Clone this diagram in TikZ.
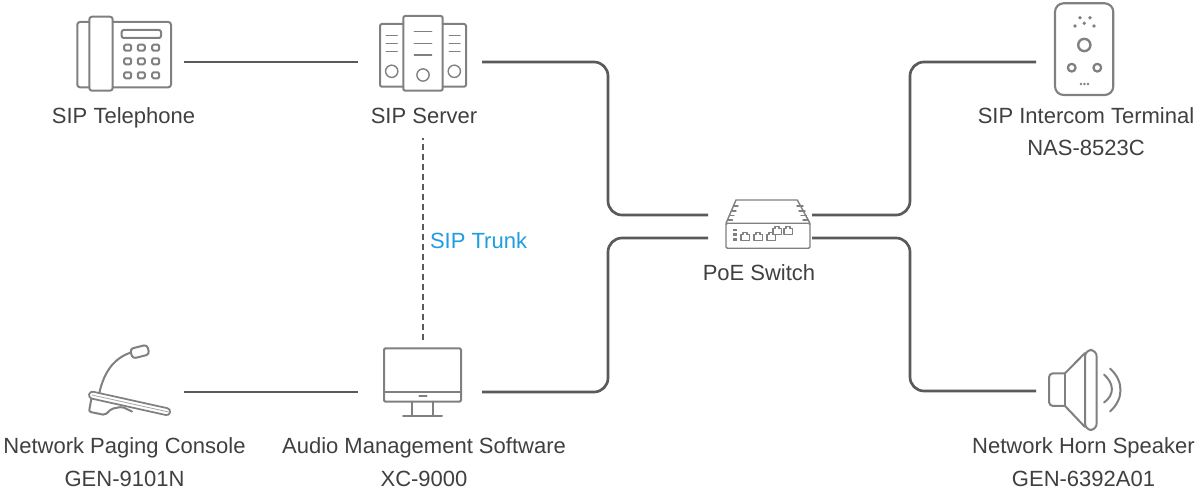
\documentclass[tikz,border=0pt]{standalone}
\usepackage{fontspec}
\setmainfont{Liberation Sans}
\usetikzlibrary{calc}
\definecolor{linec}{HTML}{5A5A5A}
\definecolor{iconc}{HTML}{808080}
\definecolor{textc}{HTML}{404040}
\definecolor{bluec}{HTML}{1E9DE3}
\tikzset{
  x=0.75pt,y=-0.75pt,
  ic/.style={draw=iconc,line width=1.5pt,line join=round,line cap=round},
  ict/.style={draw=iconc,line width=1.05pt,line join=round,line cap=round},
  wire/.style={draw=linec,line width=2pt,rounded corners=10.5pt},
  dots/.style={draw=linec,line width=2.2pt,dash pattern=on 4.5pt off 3pt,dash phase=3pt},
  anchorbox/.style={inner sep=0pt,outer sep=0pt,draw=none},
  lab/.style={font=\fontsize{16.5}{19}\selectfont,text=textc,anchor=base,inner sep=0pt},
}
\begin{document}
\begin{tikzpicture}
\useasboundingbox (0,0) rectangle (1196,491);
\fill[white] (0,0) rectangle (1196,491);
% anchor boxes
\node[anchorbox,minimum width=93pt,minimum height=60pt] (phone) at (122,62) {};
\node[anchorbox,minimum width=93pt,minimum height=60pt] (server) at (420,62) {};
\node[anchorbox,minimum width=93pt,minimum height=60pt] (console) at (122,392) {};
\node[anchorbox,minimum width=93pt,minimum height=60pt] (pc) at (420,392) {};
\node[anchorbox,minimum width=78pt,minimum height=17.25pt] (sw) at (760,226.5) {};
\node[anchorbox,minimum width=60pt,minimum height=60pt] (term) at (1076,62) {};
\node[anchorbox,minimum width=60pt,minimum height=60pt] (horn) at (1076,391) {};
\node[anchorbox,minimum width=1pt,minimum height=151.5pt] (trunk) at (423,239) {};
\coordinate (jl) at (608,140);
\coordinate (jl2) at (608,320);
\coordinate (jr) at (910,140);
\coordinate (jr2) at (910,320);
% connectors
\draw[wire] (phone.east) -- (server.west);
\draw[wire] (console.east) -- (pc.west);
\draw[wire] (server.east) -| (jl) |- (sw.north west);
\draw[wire] (pc.east) -| (jl2) |- (sw.south west);
\draw[wire] (sw.north east) -| (jr) |- (term.west);
\draw[wire] (sw.south east) -| (jr2) |- (horn.west);
\draw[dots] (trunk.north) -- (trunk.south);
% telephone
\draw[ic,rounded corners=2pt] (89.3,22) -- (77.3,22) -- (77.3,87.3) -- (89.3,87.3);
\draw[ic,rounded corners=2pt] (89.3,16.7) rectangle (112.7,90.7);
\draw[ic,rounded corners=2pt] (112.7,22) -- (171,22) -- (171,87.3) -- (112.7,87.3);
\draw[ic,rounded corners=1.5pt] (121.7,30) rectangle (161,38);
\foreach \kx in {127.7,141.3,155.7}\foreach \ky in {47.7,61.3,75.3}
  \draw[ic,rounded corners=1pt] (\kx-3.5,\ky-3) rectangle (\kx+3.5,\ky+3);
% server
\draw[ic,rounded corners=1.5pt] (403.3,24) -- (380,24) -- (380,86.7) -- (403.3,86.7);
\draw[ic,rounded corners=1.5pt] (442.7,24) -- (466,24) -- (466,86.7) -- (442.7,86.7);
\draw[ic,rounded corners=1.5pt] (403.3,16) rectangle (442.7,90.7);
\foreach \ly in {35.7,43.3,51.3}{
  \draw[ict] (386.3,\ly) -- (397.3,\ly);
  \draw[ict] (449.3,\ly) -- (460,\ly);}
\foreach \ly in {31.7,43.3,55}
  \draw[ict] (414.3,\ly) -- (431.7,\ly);
\draw[ict] (391.7,71.3) circle[radius=4.6pt];
\draw[ict] (423,75) circle[radius=4.6pt];
\draw[ict] (454.3,71.3) circle[radius=4.6pt];
% terminal
\draw[ic,line width=1.6pt,rounded corners=6.5pt] (1055,3.3) rectangle (1113.3,95);
\draw[ic,line width=1.8pt] (1084.3,45) circle[radius=4.6pt];
\draw[ic,line width=1.7pt] (1071.7,67.7) circle[radius=2.9pt];
\draw[ic,line width=1.7pt] (1097.3,67.7) circle[radius=2.9pt];
\foreach \dx/\dy in {1080/17.7,1090/17.7,1084.3/23.3,1075/26,1094/26}
  \fill[iconc] (\dx,\dy) circle[radius=1.4pt];
\foreach \dx in {1081,1084.5,1088}
  \fill[iconc] (\dx,84) circle[radius=1.1pt];
% switch
\draw[ict] (726,223.3) -- (736,200) -- (797.3,200) -- (810,223.3);
\draw[ict,rounded corners=1pt] (726,223.3) rectangle (810,248.3);
\foreach \fy/\fa/\fb in {206/733.5/738,211/731.5/736,215.5/729.5/734,220/728/732.5}{
  \draw[ict] (\fa,\fy) -- (\fb,\fy);}
\foreach \fy/\fa/\fb in {206/797/803,211/799/805,215.5/801/806.5,220/803/808}{
  \draw[ict] (\fa,\fy) -- (\fb,\fy);}
\foreach \fy in {230,234.4,239.2}
  \fill[iconc] (733.2,\fy-1.4) rectangle (736.8,\fy+1.4);
\foreach \px/\py in {741/233,754/233,767/233}
  \draw[ict,line width=.8pt] (\px,\py+7.5) -- (\px,\py+1.5) -- (\px+2,\py+1.5) -- (\px+2,\py-.5) -- (\px+6,\py-.5) -- (\px+6,\py+1.5) -- (\px+8.5,\py+1.5) -- (\px+8.5,\py+7.5) -- cycle;
\foreach \px/\py in {773/227,784/227}
  \draw[ict,line width=.8pt] (\px,\py+7.5) -- (\px,\py+1.5) -- (\px+2,\py+1.5) -- (\px+2,\py-.5) -- (\px+6,\py-.5) -- (\px+6,\py+1.5) -- (\px+8.5,\py+1.5) -- (\px+8.5,\py+7.5) -- cycle;
% console
\draw[ic] (99.3,393) .. controls (104,372) and (114,358) .. (131,352.5);
\draw[ic,rounded corners=2.5pt,rotate around={14:(139.5,351.7)}] (131,346.7) rectangle (148.5,356.7);
\draw[ic,line width=1.3pt,rounded corners=2.6pt,rotate around={-12.5:(91.7,395)}] (89,391.5) rectangle (172,398.5);
\draw[ict,line width=.6pt,draw=iconc!70] (92,395) -- (170,412.3);
\draw[ic,rounded corners=1.5pt] (91.3,399) -- (89,411.7) -- (105,415) -- (111.5,408.8) -- (122,406.8) -- (132,411.5);
% monitor
\draw[ic,rounded corners=1pt] (384,348.3) rectangle (461,401.7);
\draw[ic] (384,391.7) -- (461,391.7);
\draw[ic] (419.3,396.4) -- (426.7,396.4);
\draw[ic] (412.3,401.7) -- (412.3,415.5);
\draw[ic] (432.7,401.7) -- (432.7,415.5);
\draw[ic] (403,416) -- (442,416);
% speaker
\draw[ic,rounded corners=3pt] (1065,373.3) -- (1049,373.3) -- (1049,406) -- (1065,406);
\draw[ic] (1065,373.3) -- (1065,406);
\draw[ic] (1065,373.3) -- (1085,353);
\draw[ic] (1065,406) -- (1085,427);
\draw[ic,rounded corners=5pt] (1085,350) rectangle (1096.7,430);
\draw[ic] (1104,374.5) .. controls (1114.5,384) and (1114.5,395) .. (1104,402.5);
\draw[ic] (1110,368.5) .. controls (1124,381) and (1124,399) .. (1110,411.5);
% labels
\node[lab] (t1) at (123.5,124) {SIP Telephone};
\node[lab] (t2) at (424,124) {SIP Server};
\node[lab] (t3) at (1086,124) {SIP Intercom Terminal};
\node[lab] (t4) at (1086,156) {NAS-8523C};
\node[lab] (t5) at (759,281) {PoE Switch};
\node[lab] (t6) at (124.5,454) {Network Paging Console};
\node[lab] (t7) at (124.5,486) {GEN-9101N};
\node[lab] (t8) at (424,454) {Audio Management Software};
\node[lab] (t9) at (424,486) {XC-9000};
\node[lab] (t10) at (1083.5,454) {Network Horn Speaker};
\node[lab] (t11) at (1083.5,486) {GEN-6392A01};
\node[lab,text=bluec] (t12) at (478.5,249) {SIP Trunk};
\end{tikzpicture}
\end{document}
